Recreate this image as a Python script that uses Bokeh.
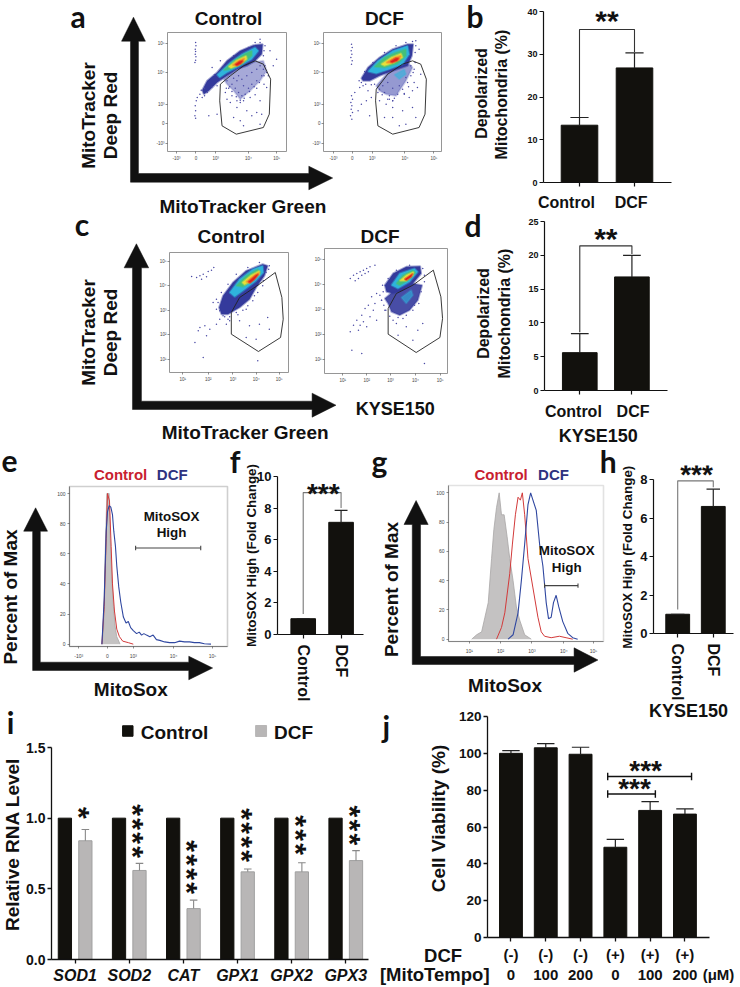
from math import pi
from bokeh.plotting import figure
from bokeh.layouts import column
from bokeh.models import Range1d, FixedTicker
from bokeh.core.properties import value
from bokeh.embed import file_html
from bokeh.resources import INLINE

# ---------------------------------------------------------------- bar data
b_values = [13.4, 26.8]
b_tops = [15.2, 30.3]
b_bracket = [15.3, 35.8, 35.8, 30.5]
d_values = [5.6, 16.8]
d_tops = [8.4, 20.0]
d_bracket = [8.6, 21.4, 21.4, 20.2]
f_values = [1.0, 7.1]
f_tops = [1.0, 7.85]
f_bracket = [1.3, 8.98, 8.98, 8.0]
h_values = [1.0, 6.6]
h_tops = [1.0, 7.5]
h_bracket = [1.25, 7.93, 7.93, 7.6]
i_genes = ["SOD1", "SOD2", "CAT", "GPX1", "GPX2", "GPX3"]
i_control = [1.0, 1.0, 1.0, 1.0, 1.0, 1.0]
i_dcf = [0.84, 0.63, 0.36, 0.62, 0.62, 0.70]
i_tops = [0.92, 0.68, 0.42, 0.64, 0.685, 0.77]
i_stars = ["*", "****", "****", "****", "***", "***"]
i_star_y = [1.038, 0.908, 0.653, 0.88, 0.88, 0.95]
j_labels = ["(-)\n0", "(-)\n100", "(-)\n200", "(+)\n0", "(+)\n100", "(+)\n200"]
j_values = [100, 103, 99.5, 49, 69, 67]
j_tops = [101.5, 105.3, 103.3, 53.3, 73.8, 69.8]

# ---------------------------------------------------------------- histograms (channel, % of max)
e_grey_x = [305, 310, 315, 320, 327, 330, 335, 340, 345, 350, 360]
e_grey_y = [0, 10, 60, 100, 100, 70, 45, 25, 12, 5, 0]
e_red_x = [305, 312, 318, 322, 328, 333, 337, 343, 350, 358, 368, 385, 400]
e_red_y = [0, 25, 70, 100, 95, 65, 40, 22, 10, 5, 2, 1, 0]
e_blue_x = [305, 312, 318, 322, 327, 332, 337, 341, 346, 350, 356, 362, 370, 378, 385, 392, 400, 410, 418, 425,
            432, 440, 450, 460, 470, 480, 495, 510, 525, 540, 555, 570, 585, 600, 615, 635]
e_blue_y = [0, 30, 75, 88, 92, 91, 86, 75, 65, 52, 38, 28, 18, 14, 15, 11, 9, 7, 8, 6,
            7, 6, 5, 6, 3, 2.5, 1.5, 1, 1, 2, 1.5, 1.5, 1, 1, 0.3, 0]
g_grey_x = [305, 320, 335, 345, 355, 365, 372, 380, 388, 395, 403, 412, 420, 430, 440, 450, 465, 485]
g_grey_y = [0, 3, 5, 15, 25, 55, 75, 90, 100, 85, 85, 70, 55, 40, 22, 13, 3, 0]
g_red_x = [380, 395, 405, 420, 428, 437, 445, 452, 458, 465, 475, 490, 505, 515, 525, 545, 570, 590, 610]
g_red_y = [0, 8, 18, 45, 65, 85, 97, 95, 100, 85, 55, 35, 15, 5, 2, 1, 2, 1, 0]
g_blue_x = [415, 430, 445, 455, 465, 475, 483, 490, 500, 510, 520, 530, 537, 545, 552, 560, 568, 580, 595, 610, 625]
g_blue_y = [0, 3, 18, 40, 65, 92, 100, 95, 88, 65, 50, 25, 14, 15, 25, 30, 22, 12, 4, 1, 0]

# ---------------------------------------------------------------- flow plots: density outlines in display channels
a1_gate = [(480,250),(510,225),(550,195),(585,180),(610,190),(632,235),(628,340),(610,380),(528,400),(485,375),(478,300)]
a1_lower = [(490,235),(520,210),(570,185),(610,180),(620,210),(600,240),(570,270),(540,295),(520,270),(500,250)]
a1_blue = [(425,268),(440,240),(470,215),(500,180),(540,150),(580,133),(608,130),(605,160),(585,180),(560,195),(530,205),(500,225),(470,245),(445,270),(430,280)]
a1_cyan = [(470,222),(510,185),(545,160),(585,140),(595,150),(575,175),(540,195),(500,215),(478,230)]
a1_green = [(490,208),(520,180),(555,158),(575,150),(575,165),(545,190),(510,205)]
a1_yellow = [(505,197),(530,178),(558,165),(560,175),(535,192),(512,202)]
a1_orange = [(517,193),(535,180),(553,172),(550,183),(530,195)]
a1_red = [(525,191),(538,182),(548,180),(542,188),(530,194)]
a1_dots = [(405,125),(406,135),(404,145),(405,152),(404,160),(406,168),(405,178),(403,185),(407,300),(404,315),(405,330),(403,345),(405,352),
           (410,290),(418,280),(422,268),(432,262),(510,305),(530,320),(560,330),(590,335),(605,340),(520,350),(540,360),(575,345),(600,370),
           (550,375),(470,340),(445,345),(500,295),(550,300),(515,285),(570,290),(540,305),(600,300),(620,260),(640,195),(650,175),(630,150),
           (615,135),(480,180),(455,200),(600,115),(625,225),(612,250),(590,262),(505,262),(495,275),(585,282),(530,300)]
a1_speck = [(500,240),(515,250),(525,262),(535,275),(545,285),(555,280),(530,240),(545,235),(560,225),(575,215),(590,205),(600,195),(610,205),
            (605,225),(590,240),(575,250),(565,262),(550,255),(535,225),(520,232),(508,258),(498,262),(515,272),(528,288),(540,298),(552,292),
            (568,272),(582,258),(598,245),(612,225),(620,215),(615,195),(480,235),(455,258),(440,275),(432,285),(425,290),(470,255),(612,150),
            (610,165),(600,125),(585,125),(565,140),(520,165),(490,195),(462,222)]
a2_gate = [(950,265),(985,220),(1030,190),(1060,180),(1085,190),(1102,235),(1098,340),(1080,380),(1000,400),(955,375),(948,300)]
a2_lower = [(950,255),(985,215),(1050,190),(1060,200),(1040,240),(1010,285),(980,280),(960,270)]
a2_patch = [(1005,222),(1035,205),(1040,220),(1020,235)]
a2_blue = [(905,232),(925,200),(960,170),(1000,145),(1045,130),(1062,130),(1058,165),(1045,195),(1000,210),(960,225),(930,240),(910,240)]
a2_cyan = [(925,212),(955,180),(1000,150),(1045,135),(1050,160),(1030,190),(990,205),(950,218)]
a2_green = [(945,198),(975,170),(1010,155),(1040,145),(1040,165),(1015,188),(975,200)]
a2_yellow = [(965,190),(995,170),(1025,158),(1030,170),(1005,185),(975,195)]
a2_orange = [(980,185),(1005,170),(1025,165),(1020,177),(995,187)]
a2_red = [(993,182),(1010,172),(1018,172),(1013,180),(998,185)]
a2_dots = [(875,130),(877,140),(874,150),(876,160),(873,170),(877,180),(875,190),(875,285),(878,295),(873,305),(876,315),(874,325),(878,335),
           (872,345),(876,355),(885,275),(900,260),(910,255),(925,270),(935,290),(920,300),(905,310),(895,330),(960,300),(980,310),(1000,320),
           (1030,330),(1060,320),(1070,350),(1000,350),(1040,370),(1020,375),(975,350),(930,345),(1075,260),(1085,220),(1065,245),(1080,145),
           (1070,120),(1050,290),(1035,280),(1000,300),(1060,270),(990,295)]
a2_speck = [(960,265),(975,275),(990,285),(1005,292),(1015,280),(1030,265),(1045,245),(1055,225),(1065,205),(970,255),(985,245),(1000,262),
            (1020,255),(1040,230),(1055,195),(1068,185),(1062,215),(1048,258),(1035,278),(1000,300),(985,295),(968,282),(955,275),(945,250),
            (935,252),(918,250),(905,245),(898,240),(1070,135),(1068,155),(1060,122),(1040,125),(1010,135),(975,155),(940,185),(915,212)]
c1_gate = [(515,305),(540,260),(600,220),(648,185),(668,260),(672,325),(664,380),(597,422),(515,370)]
c1_blue = [(478,290),(490,255),(520,215),(560,180),(610,160),(625,165),(615,195),(590,230),(570,265),(540,290),(505,310),(485,310)]
c1_cyan = [(510,245),(540,205),(580,175),(610,165),(612,185),(590,210),(550,240),(525,258)]
c1_green = [(530,225),(560,195),(595,175),(603,185),(580,208),(550,228)]
c1_yellow = [(548,215),(575,193),(600,180),(600,190),(575,210),(555,222)]
c1_orange = [(560,213),(585,193),(600,185),(590,200),(570,217)]
c1_red = [(567,213),(590,193),(597,190),(585,205),(572,216)]
c1_dots = [(395,197),(410,200),(420,195),(430,190),(440,198),(445,182),(455,178),(462,170),(425,205),(435,345),(420,350),(450,355),(470,340),
           (415,360),(405,395),(430,440),(470,265),(460,275),(480,325),(500,340),(540,330),(570,345),(600,340),(625,320),(590,385),(630,355),
           (560,380),(595,450),(440,375),(490,315),(510,330)]
c1_speck = [(480,300),(495,318),(510,318),(530,305),(550,298),(565,285),(580,270),(595,245),(610,225),(620,185),(630,165),(628,175),(612,210),
            (585,255),(560,295),(535,312),(505,325),(470,295),(475,275),(485,245),(505,220),(530,190),(565,170),(600,155)]
c2_gate = [(985,295),(1010,250),(1060,225),(1122,180),(1145,260),(1150,325),(1142,382),(1070,427),(985,372)]
c2_lower = [(975,265),(1005,240),(1060,220),(1088,225),(1075,270),(1050,300),(1020,315),(995,305),(985,280)]
c2_patch = [(1025,262),(1055,240),(1060,255),(1040,280)]
c2_blue = [(975,225),(1000,190),(1040,170),(1082,168),(1085,190),(1060,220),(1030,240),(1000,250),(980,245)]
c2_cyan = [(995,225),(1020,190),(1065,175),(1075,185),(1050,215),(1015,235)]
c2_green = [(1010,220),(1030,195),(1060,180),(1068,188),(1045,210),(1020,225)]
c2_yellow = [(1020,212),(1040,195),(1062,185),(1060,195),(1040,212)]
c2_red = [(1035,207),(1050,197),(1060,190),(1055,200),(1040,210)]
c2_dots = [(870,205),(880,195),(890,190),(900,185),(910,180),(920,175),(885,212),(905,195),(915,190),(930,170),(945,165),(895,205),(925,185),
           (935,260),(950,250),(960,255),(925,285),(915,295),(940,300),(905,315),(890,330),(880,345),(900,345),(910,335),(920,350),(895,360),
           (870,365),(945,280),(965,270),(930,320),(950,330),(975,300),(1010,340),(1040,350),(1075,360),(1090,340),(1015,375),(1060,390),
           (1095,460),(905,430),(875,420)]
c2_speck = [(965,270),(970,245),(968,225),(985,205),(1010,180),(1050,165),(1090,175),(1095,215),(1085,245),(1078,280),(1060,300),(1040,315),
            (1015,322),(990,318),(978,300),(972,285),(1095,195),(1000,330),(1030,325),(1065,285)]

# ---------------------------------------------------------------- helpers
BOLD = value("Liberation Sans")
ML = 44
figs = []


def overlay():
    o = figure(width=740 + ML, height=987, x_range=Range1d(0, 740), y_range=Range1d(987, 0),
               x_axis_location=None, y_axis_location=None, toolbar_location=None, output_backend="svg",
               min_border_left=ML, min_border_right=0, min_border_top=0, min_border_bottom=0,
               outline_line_color=None, background_fill_alpha=0, border_fill_alpha=0)
    o.grid.visible = False
    o.styles = {"position": "absolute", "left": "0px", "top": "0px"}
    figs.append(o)
    return o


bg = overlay()


def txt(s, x, y, size=19, color="#111111", angle=0, font="Liberation Sans", style="bold", align="center", on=None):
    (on or bg).text([x], [y], text=[s], text_font=value(font), text_font_size=f"{size}px", text_font_style=style,
                    text_color=color, angle=angle, text_align=align, text_baseline="middle")


def letter(s, x, y):
    txt(s, x, y - 11, size=30, font="Lato")


def arrows(x0, x1, tip_y, base_y, hw_x0, hw_x1, y0, y1, bx, tx, hy0, hy1):
    xs = [x0, x0, hw_x0, (hw_x0 + hw_x1) / 2, hw_x1, x1, x1, bx, bx, tx, bx, bx, x0]
    ys = [y1, base_y, base_y, tip_y, base_y, base_y, y0, y0, hy0, (hy0 + hy1) / 2, hy1, y1, y1]
    bg.patch(xs, ys, fill_color="#111111", line_color="#111111", line_width=0.5)


def base_fig(left, top, w, h, xr, yr, mr=6, mt=10, mb=40):
    f = figure(width=int(round(w)) + ML + mr, height=int(round(h)) + mt + mb, x_range=Range1d(*xr), y_range=Range1d(*yr),
               toolbar_location=None, output_backend="svg", min_border_left=ML, min_border_right=mr,
               min_border_top=mt, min_border_bottom=mb, background_fill_alpha=0, border_fill_alpha=0, outline_line_color=None)
    f.grid.visible = False
    f.styles = {"position": "absolute", "left": f"{round(left)}px", "top": f"{round(top) - mt}px"}
    figs.append(f)
    return f


def style_axis(ax, ticks, size, lw=1.2, color="#111111", out=4, standoff=2, overrides=None, fstyle="bold"):
    ax.ticker = FixedTicker(ticks=ticks)
    ax.axis_line_color = color
    ax.axis_line_width = lw
    ax.major_tick_line_color = color
    ax.major_tick_line_width = lw
    ax.major_tick_out = out
    ax.major_tick_in = 0
    ax.minor_tick_line_color = None
    ax.major_label_text_font = "Liberation Sans"
    ax.major_label_text_font_size = f"{size}px"
    ax.major_label_text_font_style = fstyle
    ax.major_label_text_color = color
    ax.major_label_standoff = standoff
    if overrides:
        ax.major_label_overrides = overrides


def stars(f, x, y, s, size=30, color="#111111"):
    f.text([x], [y], text=[s], text_font=BOLD, text_font_size=f"{size}px", text_font_style="bold", text_color=color,
           text_align="center", text_baseline="middle", y_offset=0.07 * size)


def star_stack(f, x, y, s, size=30, step=14, color="#111111"):
    n = len(s)
    for j, ch in enumerate(s):
        f.text([x], [y], text=[ch], text_font=BOLD, text_font_size=f"{size}px", text_font_style="bold", text_color=color,
               text_align="center", text_baseline="middle", angle=-pi / 2, x_offset=-0.21 * size, y_offset=(j - (n - 1) / 2) * step)


def two_bars(ax_l, ax_r, y_top, y_bot, ymax, yticks, c0, sp, width, vals, tops, bracket, star_x, star_y, star_s, star_fs,
             tick_size, headroom=0, labels=False, lab_size=16, br_color="#333333", cap=0.165):
    ppu = (y_bot - y_top) / ymax
    yend = ymax + headroom / ppu
    xr = ((ax_l - c0) / sp, (ax_r - c0) / sp)
    f = base_fig(ax_l, y_top - headroom, ax_r - ax_l, y_bot - y_top + headroom, xr, (0, yend), mr=4, mb=75, mt=10)
    f.vbar(x=[0, 1], top=vals, width=width, color="#12110d", line_color="#12110d")
    f.segment(x0=[0, 1], y0=vals, x1=[0, 1], y1=tops, color="#222222", line_width=1.2)
    f.segment(x0=[-cap, 1 - cap], y0=tops, x1=[cap, 1 + cap], y1=tops, color="#222222", line_width=1.2)
    f.line([0, 0, 1, 1], bracket, color=br_color, line_width=1.1)
    stars(f, star_x, star_y, star_s, size=star_fs)
    ya = f.yaxis[0]
    style_axis(ya, yticks, tick_size)
    ya.bounds = (0, ymax)
    xa = f.xaxis[0]
    style_axis(xa, [0, 1], lab_size, overrides={0: "Control", 1: "DCF"} if labels else {0: " ", 1: " "}, standoff=6)
    if labels:
        xa.major_label_orientation = -pi / 2
    return f


def flow(ox, oy, xl, xr, yb, yt, xticks, xlabs, yticks, ylabs, layers, gate, dots):
    w = (xr - xl) / 3
    h = (yb - yt) / 3
    f = base_fig(ox + xl / 3, oy + yt / 3, w, h, (xl, xr), (yb, yt), mr=3, mt=2, mb=14)
    f.outline_line_color = "#8a8a8a"
    f.outline_line_width = 0.9
    for poly, col, alpha in layers:
        f.patch([p[0] for p in poly], [p[1] for p in poly], fill_color=col, fill_alpha=alpha,
                line_color=col, line_alpha=0.45 * alpha, line_width=2)
    f.scatter([p[0] for p in dots], [p[1] for p in dots], size=1.5, color="#4a4aa5", line_color=None)
    f.patch([p[0] for p in gate], [p[1] for p in gate], fill_alpha=0, line_color="#222222", line_width=0.9)
    style_axis(f.xaxis[0], xticks, 4.5, lw=0.6, color="#444444", out=2, standoff=2, overrides=dict(zip(xticks, xlabs)), fstyle="normal")
    style_axis(f.yaxis[0], yticks, 4.5, lw=0.6, color="#444444", out=2, standoff=1, overrides=dict(zip(yticks, ylabs)), fstyle="normal")
    f.xaxis[0].axis_line_color = None
    f.yaxis[0].axis_line_color = None
    return f


BLUE, LOW, CYAN, GREEN, YEL, ORG, RED = "#343a9c", "#5c62b8", "#2fb4dc", "#45c07a", "#e8e03a", "#f08a2a", "#dd2020"

# ---------------------------------------------------------------- arrows + free text
arrows(130.7, 138.7, 16.7, 40.7, 121.7, 145.7, 173, 181.7, 310, 334, 165.7, 189.3)
arrows(132.7, 141.7, 243.3, 267.3, 124.3, 149, 400.7, 409, 313.3, 337.3, 392.7, 416.7)
arrows(32.3, 40, 507.3, 530.7, 23.3, 47.3, 661.7, 670, 189.3, 213.3, 655.7, 679.3)
arrows(414, 422.3, 500, 524, 405.7, 430, 656, 664, 576.7, 600.7, 647.3, 671.7)

for s, x, y in [("a", 78, 26.5), ("b", 477, 26.5), ("c", 82, 234), ("d", 475, 235), ("e", 9, 471), ("f", 236, 471),
                ("g", 381, 471), ("h", 611, 471), ("i", 10, 732), ("j", 388, 736)]:
    letter(s, x, y)

txt("Control", 229.3, 18); txt("DCF", 386, 18)
txt("MitoTracker", 88, 115, angle=pi / 2); txt("Deep Red", 110.7, 115, angle=pi / 2)
txt("MitoTracker Green", 243.7, 205.7)
txt("Depolarized", 484, 93, size=16, angle=pi / 2); txt("Mitochondria (%)", 504, 94, size=16, angle=pi / 2)
txt("Control", 569, 201.7, size=16); txt("DCF", 634, 201.7, size=16)

txt("Control", 232, 236); txt("DCF", 381.7, 236)
txt("MitoTracker", 88.3, 332, angle=pi / 2); txt("Deep Red", 110.7, 332, angle=pi / 2)
txt("MitoTracker Green", 246, 431.7); txt("KYSE150", 397, 408, size=18)
txt("Depolarized", 486, 313, size=16, angle=pi / 2); txt("Mitochondria (%)", 506.7, 313, size=16, angle=pi / 2)
txt("Control", 576, 411, size=16); txt("DCF", 636, 411, size=16); txt("KYSE150", 601, 435, size=18)

txt("Control", 120.7, 474, size=15, color="#c8202f"); txt("DCF", 172.7, 474, size=15, color="#2e3280")
txt("Percent of Max", 10.5, 596.5, angle=pi / 2); txt("MitoSox", 131, 689)
txt("MitoSOX High (Fold Change)", 252, 555, size=13.4, angle=pi / 2)
txt("Control", 503.3, 474, size=15, color="#c8202f"); txt("DCF", 556, 474, size=15, color="#2e3280")
txt("Percent of Max", 392.7, 589, angle=pi / 2); txt("MitoSox", 507.3, 685)
txt("MitoSOX High (Fold Change)", 630.7, 556.7, size=13.4, angle=pi / 2)
txt("KYSE150", 691.7, 710, size=18)

txt("Relative RNA Level", 11.7, 844, angle=pi / 2)
bg.rect([128], [730.5], width=10.5, height=10.5, color="#12110d")
txt("Control", 141, 731.7, align="left")
bg.rect([262], [730.5], width=11, height=11, color="#b8b6b6")
txt("DCF", 275, 731.7, align="left")

txt("Cell Viability (%)", 440, 818, size=19, angle=pi / 2)
txt("DCF", 445, 955, size=18.5)
txt("[MitoTempo]", 491.7, 974, size=18.5, align="right")
txt("(μM)", 706, 974, size=15, align="left")

# ---------------------------------------------------------------- flow plots
xt = [347, 406, 466, 565, 650]
xl = ["-10³", "0", "10³", "10⁴", "10⁵"]
yt = [128, 214, 312, 369, 428]
yl = ["10⁵", "10⁴", "10³", "0", "-10³"]
flow(60, 0, 320, 680, 452, 95, xt, xl, yt, yl,
     [(a1_lower, LOW, 0.55), (a1_blue, BLUE, 1), (a1_cyan, CYAN, 1), (a1_green, GREEN, 1), (a1_yellow, YEL, 1), (a1_orange, ORG, 1), (a1_red, RED, 1)],
     a1_gate, a1_dots + a1_speck)
flow(60, 0, 790, 1148, 452, 95, [820, 877, 938, 1037, 1125], xl, yt, yl,
     [(a2_lower, LOW, 0.65), (a2_patch, CYAN, 0.6), (a2_blue, BLUE, 1), (a2_cyan, CYAN, 1), (a2_green, GREEN, 1), (a2_yellow, YEL, 1), (a2_orange, ORG, 1), (a2_red, RED, 1)],
     a2_gate, a2_dots + a2_speck)
xk = ["10¹", "10²", "10³", "10⁴", "10⁵"]
yk = ["10⁵", "10⁴", "10³", "10²", "10¹"]
flow(60, 210, 328, 688, 485, 125, [368, 445, 520, 590, 660], xk, [152, 225, 298, 370, 445], yk,
     [(c1_blue, BLUE, 1), (c1_cyan, CYAN, 1), (c1_green, GREEN, 1), (c1_yellow, YEL, 1), (c1_orange, ORG, 1), (c1_red, RED, 1)],
     c1_gate, c1_dots + c1_speck)
flow(60, 210, 792, 1165, 490, 115, [847, 920, 992, 1068, 1143], xk, [147, 222, 297, 372, 447], yk,
     [(c2_lower, BLUE, 0.9), (c2_patch, CYAN, 0.6), (c2_blue, BLUE, 1), (c2_cyan, CYAN, 1), (c2_green, GREEN, 1), (c2_yellow, YEL, 1), (c2_red, RED, 1)],
     c2_gate, c2_dots + c2_speck)


# ---------------------------------------------------------------- histograms
def hist(ox, oy, xl_, xr_, zyb, zyt, zero, scale, xticks, xlabs, grey, red, blue, gate_x, gate_y, outline):
    ylo, yhi = (zero - zyb) / scale, (zero - zyt) / scale
    f = base_fig(ox + xl_ / 3, oy + zyt / 3, (xr_ - xl_) / 3, (zyb - zyt) / 3, (xl_, xr_), (ylo, yhi), mr=3, mt=2, mb=16)
    f.outline_line_color = outline
    f.outline_line_width = 1.6
    f.varea(x=grey[0], y1=[0] * len(grey[0]), y2=grey[1], fill_color="#c4c2c2")
    f.line(grey[0], grey[1], color="#a8a6a6", line_width=0.8)
    f.line(red[0], red[1], color="#d23a3a", line_width=1)
    f.line(blue[0], blue[1], color="#2f47a0", line_width=1.1)
    f.line(gate_x, [gate_y] * 2, color="#444444", line_width=1.1)
    f.segment(x0=gate_x, y0=[gate_y - 1.5] * 2, x1=gate_x, y1=[gate_y + 1.5] * 2, color="#444444", line_width=1.1)
    style_axis(f.xaxis[0], xticks, 5, lw=0.6, color="#444444", out=2, standoff=4, overrides=dict(zip(xticks, xlabs)), fstyle="normal")
    ticks = [0, 20, 40, 60, 80, 100]
    style_axis(f.yaxis[0], ticks, 5, lw=0.6, color="#444444", out=2, standoff=2, fstyle="normal")
    f.xaxis[0].axis_line_color = "#444444"
    return f


hist(0, 450, 207, 685, 587, 108, 580, 4.51, [235, 322, 400, 522, 640], ["-10³", "0", "10³", "10⁴", "10⁵"],
     (e_grey_x, e_grey_y), (e_red_x, e_red_y), (e_blue_x, e_blue_y), [407, 604], 63.8, "#cfcfcf")
hist(370, 450, 235, 703, 572, 104, 565, 4.39, [298, 392, 487, 583, 673], ["10¹", "10²", "10³", "10⁴", "10⁵"],
     (g_grey_x, g_grey_y), (g_red_x, g_red_y), (g_blue_x, g_blue_y), [525, 626], 36.6, "#e2e2e2")

# labels above the histograms: a transparent overlay keeps them over the curves
top = overlay()
for s, x, y in [("MitoSOX", 172, 516), ("High", 172, 532), ("MitoSOX", 569.3, 550), ("High", 569.3, 566.7)]:
    txt(s, x, y, size=13.4, on=top)

# ---------------------------------------------------------------- two-bar panels
two_bars(543, 671, 11, 181.7, 40, [0, 10, 20, 30, 40], 579, 55, 0.665, b_values, b_tops, b_bracket, 0.5, 38.3, "**", 30, 9)
two_bars(544.3, 667.7, 221, 390, 25, [0, 5, 10, 15, 20, 25], 579.7, 52.3, 0.665, d_values, d_tops, d_bracket, 0.5, 22.8, "**", 30, 9, cap=0.17)
two_bars(276.7, 363, 476, 633.7, 10, [0, 2, 4, 6, 8, 10], 302.5, 38, 0.65, f_values, f_tops, f_bracket, 0.53, 9.05, "***", 28, 13, labels=True, br_color="#777777", cap=0.17)
two_bars(652.7, 733, 479.3, 633.3, 8, [0, 2, 4, 6, 8], 677, 35.7, 0.67, h_values, h_tops, h_bracket, 0.53, 8.34, "***", 28, 13, headroom=14, labels=True, br_color="#777777", cap=0.19)

# ---------------------------------------------------------------- panel i
i_pos = list(range(len(i_genes)))
pi_f = base_fig(51, 747.3, 318, 212, ((51 - 74.7) / 54.3, (369 - 74.7) / 54.3), (0, 1.5), mr=3, mt=8, mb=27)
pi_f.vbar(x=[k - 0.189 for k in i_pos], top=i_control, width=0.245, color="#12110d", line_color="#12110d")
pi_f.vbar(x=[k + 0.189 for k in i_pos], top=i_dcf, width=0.245, color="#b8b6b6", line_color="#a0a0a0")
pi_f.segment(x0=[k + 0.189 for k in i_pos], y0=i_dcf, x1=[k + 0.189 for k in i_pos], y1=i_tops, color="#888888", line_width=1.1)
pi_f.segment(x0=[k + 0.189 - 0.07 for k in i_pos], y0=i_tops, x1=[k + 0.189 + 0.07 for k in i_pos], y1=i_tops, color="#888888", line_width=1.1)
for k, s, y in zip(i_pos, i_stars, i_star_y):
    star_stack(pi_f, k + 0.2, y, s)
style_axis(pi_f.yaxis[0], [0, 0.5, 1, 1.5], 14, lw=1.3, overrides={0: "0.0", 0.5: "0.5", 1: "1.0", 1.5: "1.5"})
style_axis(pi_f.xaxis[0], i_pos, 16, lw=1.3, overrides=dict(zip(i_pos, i_genes)), fstyle="bold italic", standoff=3)

# ---------------------------------------------------------------- panel j
j_pos = list(range(len(j_values)))
pj = base_fig(486.7, 715.6, 223.3, 221.4, ((486.7 - 510.3) / 35, (710 - 510.3) / 35), (0, 120), mr=3, mt=8, mb=50)
pj.vbar(x=j_pos, top=j_values, width=0.657, color="#12110d", line_color="#12110d")
pj.segment(x0=j_pos, y0=j_values, x1=j_pos, y1=j_tops, color="#222222", line_width=1.2)
pj.segment(x0=[k - 0.25 for k in j_pos], y0=j_tops, x1=[k + 0.25 for k in j_pos], y1=j_tops, color="#222222", line_width=1.2)
pj.line([2.78, 5.19], [87.4, 87.4], color="#111111", line_width=1.4)
pj.line([2.78, 4.15], [77.9, 77.9], color="#111111", line_width=1.4)
pj.segment(x0=[2.78, 5.19, 2.78, 4.15], y0=[85.4, 85.4, 75.9, 75.9], x1=[2.78, 5.19, 2.78, 4.15], y1=[89.4, 89.4, 79.9, 79.9], color="#111111", line_width=1.4)
stars(pj, 3.87, 91.5, "***", size=28)
stars(pj, 3.55, 81.9, "***", size=28)
style_axis(pj.yaxis[0], [0, 20, 40, 60, 80, 100, 120], 13.5, lw=1.3)
style_axis(pj.xaxis[0], j_pos, 15, lw=1.3, overrides=dict(zip(j_pos, j_labels)), standoff=4)

page = column(*figs, width=740 + ML, height=987, styles={"position": "absolute", "left": f"{-ML}px", "top": "0px"})
open("out.html", "w").write(file_html(page, INLINE))
